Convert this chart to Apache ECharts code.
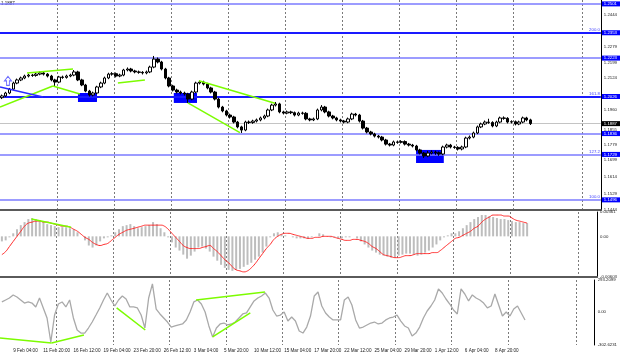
<!DOCTYPE html>
<html><head><meta charset="utf-8">
<script src="https://cdn.jsdelivr.net/npm/echarts@6/dist/echarts.min.js"></script>
<style>html,body{margin:0;padding:0;background:#fff}#c{width:620px;height:357px}</style>
</head><body><div id="c"></div>
<script>
const timeLabels = ['9 Feb 04:00','11 Feb 20:00','16 Feb 12:00','19 Feb 04:00','23 Feb 20:00','26 Feb 12:00','3 Mar 04:00','5 Mar 20:00','10 Mar 12:00','15 Mar 04:00','17 Mar 20:00','22 Mar 12:00','25 Mar 04:00','29 Mar 20:00','1 Apr 12:00','6 Apr 04:00','8 Apr 20:00'];

// [open, close, low, high]
const candles = [
[1.2020,1.2029,1.2013,1.2036],[1.2029,1.2044,1.2023,1.2050],[1.2044,1.2064,1.2038,1.2070],[1.2064,1.2095,1.2058,1.2102],
[1.2095,1.2111,1.2089,1.2118],[1.2111,1.2121,1.2105,1.2128],[1.2121,1.2131,1.2115,1.2138],[1.2131,1.2136,1.2124,1.2143],
[1.2136,1.2134,1.2127,1.2142],[1.2134,1.2141,1.2128,1.2148],[1.2141,1.2147,1.2135,1.2155],[1.2147,1.2141,1.2134,1.2153],
[1.2141,1.2131,1.2124,1.2146],[1.2131,1.2111,1.2104,1.2137],[1.2111,1.2100,1.2080,1.2117],[1.2100,1.2126,1.2094,1.2132],
[1.2126,1.2124,1.2117,1.2133],[1.2124,1.2131,1.2118,1.2138],[1.2131,1.2136,1.2125,1.2143],[1.2136,1.2152,1.2130,1.2162],
[1.2152,1.2111,1.2105,1.2158],[1.2111,1.2085,1.2079,1.2117],[1.2085,1.2054,1.2048,1.2091],[1.2054,1.2034,1.2026,1.2060],
[1.2034,1.2044,1.2027,1.2051],[1.2044,1.2075,1.2038,1.2081],[1.2075,1.2095,1.2069,1.2102],[1.2095,1.2121,1.2089,1.2128],
[1.2121,1.2141,1.2115,1.2148],[1.2141,1.2143,1.2133,1.2151],[1.2143,1.2131,1.2124,1.2149],[1.2131,1.2136,1.2125,1.2143],
[1.2136,1.2162,1.2130,1.2168],[1.2162,1.2167,1.2155,1.2175],[1.2167,1.2157,1.2150,1.2173],[1.2157,1.2152,1.2145,1.2163],
[1.2152,1.2150,1.2143,1.2159],[1.2150,1.2147,1.2139,1.2156],[1.2147,1.2152,1.2140,1.2159],[1.2152,1.2177,1.2146,1.2184],
[1.2177,1.2218,1.2171,1.2234],[1.2218,1.2203,1.2196,1.2226],[1.2203,1.2167,1.2160,1.2209],[1.2167,1.2121,1.2114,1.2173],
[1.2121,1.2080,1.2073,1.2127],[1.2080,1.2059,1.2052,1.2086],[1.2059,1.2049,1.2042,1.2066],[1.2049,1.2044,1.2037,1.2056],
[1.2044,1.2039,1.2031,1.2051],[1.2039,1.2013,1.1993,1.2045],[1.2013,1.2049,1.2007,1.2056],[1.2049,1.2095,1.2043,1.2102],
[1.2095,1.2100,1.2088,1.2108],[1.2100,1.2090,1.2083,1.2107],[1.2090,1.2070,1.2063,1.2096],[1.2070,1.2049,1.2042,1.2076],
[1.2049,1.2013,1.2006,1.2055],[1.2013,1.1972,1.1965,1.2019],[1.1972,1.1952,1.1945,1.1978],[1.1952,1.1931,1.1924,1.1958],
[1.1931,1.1921,1.1913,1.1938],[1.1921,1.1895,1.1888,1.1927],[1.1895,1.1870,1.1863,1.1901],[1.1870,1.1854,1.1839,1.1876],
[1.1854,1.1895,1.1848,1.1902],[1.1895,1.1893,1.1885,1.1903],[1.1893,1.1900,1.1886,1.1907],[1.1900,1.1906,1.1893,1.1913],
[1.1906,1.1916,1.1899,1.1923],[1.1916,1.1926,1.1909,1.1933],[1.1926,1.1957,1.1920,1.1964],[1.1957,1.1982,1.1951,1.1989],
[1.1982,1.1988,1.1975,1.1998],[1.1988,1.1947,1.1940,1.1994],[1.1947,1.1941,1.1934,1.1953],[1.1941,1.1947,1.1935,1.1954],
[1.1947,1.1943,1.1936,1.1953],[1.1943,1.1931,1.1924,1.1949],[1.1931,1.1941,1.1925,1.1948],[1.1941,1.1940,1.1933,1.1948],
[1.1940,1.1911,1.1904,1.1946],[1.1911,1.1906,1.1899,1.1917],[1.1906,1.1911,1.1900,1.1918],[1.1911,1.1957,1.1905,1.1964],
[1.1957,1.1972,1.1950,1.1982],[1.1972,1.1947,1.1940,1.1978],[1.1947,1.1926,1.1919,1.1953],[1.1926,1.1916,1.1909,1.1932],
[1.1916,1.1906,1.1899,1.1922],[1.1906,1.1900,1.1893,1.1912],[1.1900,1.1895,1.1888,1.1906],[1.1895,1.1911,1.1889,1.1918],
[1.1911,1.1936,1.1905,1.1943],[1.1936,1.1931,1.1924,1.1942],[1.1931,1.1900,1.1893,1.1937],[1.1900,1.1864,1.1857,1.1906],
[1.1864,1.1844,1.1837,1.1870],[1.1844,1.1834,1.1827,1.1850],[1.1834,1.1823,1.1816,1.1840],[1.1823,1.1818,1.1811,1.1829],
[1.1818,1.1803,1.1796,1.1824],[1.1803,1.1782,1.1775,1.1809],[1.1782,1.1777,1.1770,1.1788],[1.1777,1.1793,1.1771,1.1800],
[1.1793,1.1791,1.1784,1.1800],[1.1791,1.1795,1.1785,1.1802],[1.1795,1.1782,1.1775,1.1801],[1.1782,1.1777,1.1770,1.1788],
[1.1777,1.1772,1.1765,1.1783],[1.1772,1.1752,1.1745,1.1778],[1.1752,1.1736,1.1729,1.1758],[1.1736,1.1721,1.1711,1.1742],
[1.1721,1.1736,1.1715,1.1747],[1.1736,1.1741,1.1729,1.1750],[1.1741,1.1738,1.1727,1.1748],[1.1738,1.1731,1.1722,1.1744],
[1.1731,1.1767,1.1725,1.1774],[1.1767,1.1777,1.1760,1.1784],[1.1777,1.1767,1.1760,1.1783],[1.1767,1.1765,1.1758,1.1773],
[1.1765,1.1757,1.1749,1.1771],[1.1757,1.1767,1.1750,1.1774],[1.1767,1.1813,1.1761,1.1820],[1.1813,1.1818,1.1806,1.1826],
[1.1818,1.1839,1.1812,1.1846],[1.1839,1.1870,1.1833,1.1877],[1.1870,1.1885,1.1864,1.1892],[1.1885,1.1895,1.1879,1.1903],
[1.1895,1.1893,1.1886,1.1912],[1.1893,1.1875,1.1868,1.1899],[1.1875,1.1895,1.1869,1.1902],[1.1895,1.1916,1.1889,1.1923],
[1.1916,1.1914,1.1907,1.1924],[1.1914,1.1895,1.1888,1.1920],[1.1895,1.1897,1.1888,1.1904],[1.1897,1.1885,1.1878,1.1903],
[1.1885,1.1895,1.1879,1.1902],[1.1895,1.1916,1.1889,1.1923],[1.1916,1.1906,1.1899,1.1922],[1.1906,1.1887,1.1880,1.1912]
];

const macdHist = [
-0.00075,-0.00060,-0.00015,0.00045,0.00105,0.00166,0.00211,0.00256,0.00271,0.00256,
0.00241,0.00211,0.00181,0.00166,0.00151,0.00136,0.00136,0.00136,0.00120,0.00105,
0.00060,0,-0.00060,-0.00136,-0.00166,-0.00136,-0.00075,-0.00030,-0.00015,0.00015,
0.00060,0.00105,0.00151,0.00166,0.00181,0.00151,0.00120,0.00136,0.00151,0.00166,
0.00211,0.00181,0.00120,0.00060,-0.00015,-0.00090,-0.00166,-0.00211,-0.00271,-0.00331,
-0.00286,-0.00226,-0.00166,-0.00151,-0.00181,-0.00226,-0.00301,-0.00361,-0.00422,-0.00467,
-0.00497,-0.00512,-0.00497,-0.00482,-0.00452,-0.00422,-0.00392,-0.00346,-0.00301,-0.00241,
-0.00151,-0.00015,0.00045,0.00060,0.00030,0.00015,0,-0.00015,-0.00030,-0.00030,
-0.00030,-0.00030,-0.00015,0,0.00045,0.00030,0,-0.00015,-0.00015,-0.00030,
-0.00030,-0.00015,-0.00015,0,-0.00030,-0.00075,-0.00120,-0.00166,-0.00211,-0.00241,
-0.00271,-0.00286,-0.00301,-0.00316,-0.00316,-0.00286,-0.00271,-0.00256,-0.00256,-0.00271,
-0.00286,-0.00271,-0.00241,-0.00211,-0.00166,-0.00120,-0.00060,-0.00015,0.00015,0.00045,
0.00045,0.00075,0.00120,0.00166,0.00211,0.00256,0.00286,0.00316,0.00316,0.00301,
0.00286,0.00271,0.00256,0.00256,0.00241,0.00226,0.00211,0.00211,0.00196,0.00196
];

const macdSignal = [
-0.00271,-0.00226,-0.00151,-0.00075,0,0.00075,0.00151,0.00196,0.00211,0.00226,
0.00226,0.00211,0.00211,0.00196,0.00181,0.00166,0.00151,0.00151,0.00136,0.00105,
0.00075,0.00030,-0.00015,-0.00045,-0.00090,-0.00120,-0.00136,-0.00120,-0.00105,-0.00060,
-0.00015,0.00030,0.00060,0.00090,0.00105,0.00120,0.00136,0.00151,0.00166,0.00166,
0.00166,0.00166,0.00166,0.00151,0.00105,0.00045,-0.00015,-0.00075,-0.00136,-0.00166,
-0.00181,-0.00181,-0.00181,-0.00166,-0.00151,-0.00136,-0.00181,-0.00226,-0.00286,-0.00346,
-0.00392,-0.00452,-0.00497,-0.00512,-0.00527,-0.00512,-0.00467,-0.00407,-0.00331,-0.00256,
-0.00181,-0.00120,-0.00045,0,0.00030,0.00045,0.00045,0.00030,0.00015,0,
-0.00015,-0.00030,-0.00030,-0.00015,-0.00015,0,0,0,-0.00015,-0.00030,
-0.00045,-0.00060,-0.00060,-0.00045,-0.00045,-0.00060,-0.00075,-0.00105,-0.00151,-0.00181,
-0.00226,-0.00271,-0.00286,-0.00301,-0.00316,-0.00316,-0.00301,-0.00286,-0.00286,-0.00271,
-0.00256,-0.00256,-0.00256,-0.00256,-0.00241,-0.00241,-0.00211,-0.00166,-0.00120,-0.00075,
-0.00030,-0.00015,0.00015,0.00045,0.00075,0.00120,0.00151,0.00211,0.00256,0.00286,
0.00316,0.00316,0.00316,0.00301,0.00301,0.00271,0.00241,0.00226,0.00211,0.00196
];

const cci = [
92,110,128,156,137,110,82,92,82,46,
128,37,-55,-275,-28,73,92,46,110,-55,
-165,-193,-193,-147,-92,-28,37,110,174,110,
55,110,147,119,46,46,37,-28,-147,128,
257,27,-18,-55,-92,-138,-128,-119,-110,-73,
0,92,110,73,0,-128,-229,-147,-110,-101,
-119,-110,-92,-55,-18,-9,46,101,128,147,
174,128,18,-37,-28,0,-83,-46,-83,-174,
-193,-138,-37,147,183,55,-9,-46,-73,-73,
-73,110,137,64,-73,-147,-138,-119,-101,-92,
-110,-101,-73,-55,-46,-28,-83,-128,-147,-220,
-193,-138,-55,9,55,110,211,174,119,73,
18,-18,211,165,101,156,128,110,82,37,
55,165,64,-37,0,-37,27,55,-9,-73
];

const priceTicks = [1.2444,1.2279,1.2199,1.2124,1.1960,1.1855,1.1779,1.1699,1.1614,1.1529,1.1444];
const plainLevels = [1.2501,1.2223,1.1836];
const fibLevels = [1.2353,1.2026,1.1729,1.1496];
const fibLabels = ['200.0','161.8','127.2','100.0'];
const strongFibLabels = ['200.0','161.8'];
const currentPrice = 1.1887;
const headerText = '1.1887';

// annotation coordinates: [barIndexStart, valueStart, barIndexEnd, valueEnd]
const greenLinesMain = [
[6.6,1.2147,18.7,1.2167],
[-0.5,1.1972,13.4,1.2080],
[13.4,1.2080,20.5,1.2039],
[30.5,1.2095,37.6,1.2111],
[48.9,1.1993,62.6,1.1841],
[51.8,1.2107,71.8,1.1991]
];
const blueLinesMain = [[-0.5,1.2075,10.8,1.2023]];
const zones = [
[20.0,1.2044,25.0,1.1998],
[45.2,1.2044,51.3,1.1993],
[108.9,1.1752,116.2,1.1685]
];
const arrowUp = [[1.6,1.2106]];
const greenLinesMacd = [[7.8,0.00256,18.3,0.00135]];
const greenLinesCci = [
[-0.5,-238,13.2,-284],
[13.2,-284,21.8,-211],
[30.5,37,38.1,-165],
[51.6,110,69.9,183],
[56.0,-229,66.0,-9]
];
const macdTicks = [0.00361,0,-0.00603];
const macdTickLabels = ['0.00361','0.00','-0.00603'];
const cciTicks = [293.2099,0,-302.6231];
const cciTickLabels = ['293.2099','0.00','-302.6231'];

const N = 158;
const cats = [], labelAt = {};
for (let i = 0; i < N; i++) {
  cats.push('c' + i);
  const k = (i - 3) / 8;
  if (Number.isInteger(k) && k >= 0 && k < timeLabels.length) labelAt[i] = timeLabels[k];
}
const FONT = 'Liberation Sans';
const gridFn = (idx) => idx > 0 && ((idx % 15 === 0 && idx <= 135) || idx === 153);

function catAxis(g) {
  return {
    type: 'category', gridIndex: g, data: cats, boundaryGap: true,
    axisLine: { show: g < 2, onZero: false, lineStyle: { color: '#5a5a5a', width: 2 } },
    axisTick: { show: false },
    axisLabel: {
      show: g === 2, interval: (idx) => labelAt[idx] != null,
      formatter: (v, idx) => labelAt[idx] || '',
      fontSize: 4.6, color: '#222', align: 'left', margin: 3, fontFamily: FONT
    },
    splitLine: { show: true, interval: gridFn, lineStyle: { color: '#7a7a7a', type: [2, 2], width: 1 } }
  };
}
function valAxis(g) {
  return { type: 'value', gridIndex: g, min: -0.5, max: N - 0.5, show: false };
}
function lookupFmt(ticks, labels) {
  return (v) => { const i = ticks.findIndex(t => Math.abs(t - v) < 1e-9); return i >= 0 ? labels[i] : ''; };
}
const yLabel = { fontSize: 4.3, color: '#222', margin: 3, align: 'left', fontFamily: FONT };
const yLine = { show: true, onZero: false, lineStyle: { color: '#000', width: 1 } };

const boxLabel = (txt, bg) => ({
  show: true, position: 'end', distance: 1, formatter: txt,
  backgroundColor: bg, color: '#fff', fontSize: 4.3, fontFamily: FONT, padding: [1, 3, 0, 2]
});

const markData = [];
plainLevels.forEach(v => markData.push({
  yAxis: v, lineStyle: { color: '#7b7bff', width: 1.5, type: 'solid' },
  label: boxLabel(v.toFixed(4), '#0000ff')
}));
fibLevels.forEach((v, i) => {
  const strong = strongFibLabels.includes(fibLabels[i]);
  markData.push({
    yAxis: v, lineStyle: { color: strong ? '#1a1aff' : '#7b7bff', width: strong ? 2 : 1.5, type: 'solid' },
    label: boxLabel(v.toFixed(4), '#0000ff')
  });
  markData.push({
    yAxis: v, lineStyle: { color: 'rgba(0,0,0,0)', width: 0 },
    label: { show: true, position: 'insideEndTop', distance: 1, formatter: fibLabels[i], color: '#3b3bff', opacity: 1, fontSize: 4.3, fontFamily: FONT }
  });
});
markData.push({
  yAxis: currentPrice, lineStyle: { color: '#c4c4c4', width: 1, type: 'solid' },
  label: boxLabel(currentPrice.toFixed(4), '#000000')
});

const segs = (arr) => arr.map(a => ({ coords: [[a[0], a[1]], [a[2], a[3]]] }));

const chart = echarts.init(document.getElementById('c'), null, { renderer: 'canvas' });
chart.setOption({
  animation: false,
  backgroundColor: '#ffffff',
  textStyle: { fontFamily: FONT },
  grid: [
    { left: 0, top: 0, width: 601, height: 210 },
    { left: 0, top: 212, width: 601, height: 65 },
    { left: 0, top: 280, width: 601, height: 65 }
  ],
  xAxis: [catAxis(0), catAxis(1), catAxis(2), valAxis(0), valAxis(1), valAxis(2)],
  yAxis: [
    { type: 'value', gridIndex: 0, position: 'right', min: 1.1444, max: 1.2521, splitLine: { show: false },
      axisLine: yLine, axisTick: { show: false },
      axisLabel: Object.assign({ customValues: priceTicks, formatter: v => v.toFixed(4) }, yLabel) },
    { type: 'value', gridIndex: 1, position: 'right', min: -0.00603, max: 0.00361, splitLine: { show: false },
      axisLine: yLine, axisTick: { show: false },
      axisLabel: Object.assign({ customValues: macdTicks, formatter: lookupFmt(macdTicks, macdTickLabels) }, yLabel) },
    { type: 'value', gridIndex: 2, position: 'right', min: -302.6231, max: 293.2099, splitLine: { show: false },
      axisLine: yLine, axisTick: { show: false },
      axisLabel: Object.assign({ customValues: cciTicks, formatter: lookupFmt(cciTicks, cciTickLabels) }, yLabel) }
  ],
  graphic: [{ type: 'text', left: 1, top: 1, style: { text: headerText, fontSize: 4.5, fill: '#222', fontFamily: FONT } }],
  series: [
    { type: 'custom', xAxisIndex: 3, yAxisIndex: 0, z: 1, data: zones,
      encode: { x: [0, 2], y: [1, 3] },
      renderItem: (params, api) => {
        const p1 = api.coord([api.value(0), api.value(1)]);
        const p2 = api.coord([api.value(2), api.value(3)]);
        return { type: 'rect', shape: { x: Math.min(p1[0], p2[0]), y: Math.min(p1[1], p2[1]),
          width: Math.abs(p2[0] - p1[0]), height: Math.abs(p2[1] - p1[1]) }, style: { fill: '#0000ff' } };
      } },
    { type: 'candlestick', xAxisIndex: 0, yAxisIndex: 0, data: candles, barWidth: 3, z: 3,
      itemStyle: { color: '#ffffff', color0: '#000000', borderColor: '#000000', borderColor0: '#000000', borderWidth: 1 },
      markLine: { silent: true, precision: 6, symbol: ['none', 'none'], animation: false, z: 2, data: markData } },
    { type: 'lines', coordinateSystem: 'cartesian2d', xAxisIndex: 3, yAxisIndex: 0, z: 4,
      data: segs(greenLinesMain), lineStyle: { color: '#7cfc00', width: 1.5, opacity: 1 } },
    { type: 'lines', coordinateSystem: 'cartesian2d', xAxisIndex: 3, yAxisIndex: 0, z: 4,
      data: segs(blueLinesMain), lineStyle: { color: '#2b2bff', width: 1.5, opacity: 1 } },
    { type: 'scatter', xAxisIndex: 3, yAxisIndex: 0, z: 5, data: arrowUp,
      symbol: 'path://M5,0 L10,5 L7,5 L7,10 L3,10 L3,5 L0,5 Z', symbolSize: [7, 9],
      itemStyle: { color: '#ffffff', borderColor: '#4646ff', borderWidth: 1 } },
    { type: 'bar', xAxisIndex: 1, yAxisIndex: 1, data: macdHist, barWidth: 2,
      itemStyle: { color: '#bdbdbd' } },
    { type: 'line', xAxisIndex: 1, yAxisIndex: 1, data: macdSignal, smooth: true, showSymbol: false,
      lineStyle: { color: '#ff2a2a', width: 1 } },
    { type: 'lines', coordinateSystem: 'cartesian2d', xAxisIndex: 4, yAxisIndex: 1, z: 4,
      data: segs(greenLinesMacd), lineStyle: { color: '#7cfc00', width: 1.5, opacity: 1 } },
    { type: 'line', xAxisIndex: 2, yAxisIndex: 2, data: cci, showSymbol: false,
      lineStyle: { color: '#a9a9a9', width: 1.3 } },
    { type: 'lines', coordinateSystem: 'cartesian2d', xAxisIndex: 5, yAxisIndex: 2, z: 4,
      data: segs(greenLinesCci), lineStyle: { color: '#7cfc00', width: 1.5, opacity: 1 } }
  ]
});
</script>
</body></html>
